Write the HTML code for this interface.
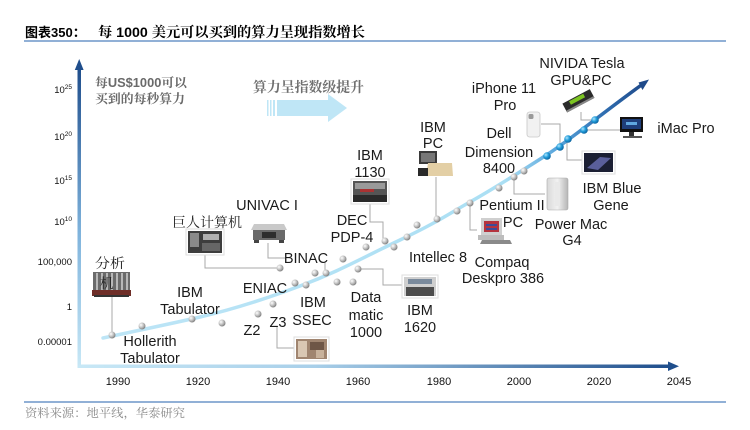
<!DOCTYPE html>
<html><head><meta charset="utf-8"><style>
html,body{margin:0;padding:0;background:#fff;}
svg{display:block;}
</style></head><body>
<svg width="750" height="430" viewBox="0 0 750 430" xmlns="http://www.w3.org/2000/svg">
<defs>
<linearGradient id="yax" x1="0" y1="1" x2="0" y2="0"><stop offset="0" stop-color="#c8e8f6"/><stop offset="0.45" stop-color="#7fb3dc"/><stop offset="1" stop-color="#1f4e8c"/></linearGradient>
<linearGradient id="xax" x1="0" y1="0" x2="1" y2="0"><stop offset="0" stop-color="#c8e8f6"/><stop offset="0.4" stop-color="#a8cfe9"/><stop offset="1" stop-color="#1f4e8c"/></linearGradient>
<linearGradient id="crv" gradientUnits="userSpaceOnUse" x1="103" y1="338" x2="644" y2="83"><stop offset="0" stop-color="#bde5f6"/><stop offset="0.72" stop-color="#aadff4"/><stop offset="0.82" stop-color="#5aa6dc"/><stop offset="0.92" stop-color="#2f6db0"/><stop offset="1" stop-color="#1f4a8a"/></linearGradient>
<radialGradient id="gd" cx="0.35" cy="0.35" r="0.7"><stop offset="0" stop-color="#ffffff"/><stop offset="0.5" stop-color="#c4c4c4"/><stop offset="1" stop-color="#7a7a7a"/></radialGradient>
<radialGradient id="bd" cx="0.35" cy="0.35" r="0.7"><stop offset="0" stop-color="#aee6ff"/><stop offset="0.5" stop-color="#1f9ad8"/><stop offset="1" stop-color="#0b5f9a"/></radialGradient>
<linearGradient id="silver" x1="0" y1="0" x2="1" y2="0"><stop offset="0" stop-color="#d8d8d8"/><stop offset="0.5" stop-color="#f2f2f2"/><stop offset="1" stop-color="#b5b5b5"/></linearGradient>
</defs>

<!-- title -->
<text x="25" y="37" font-family="Liberation Sans, Noto Sans CJK SC, sans-serif" font-size="13" font-weight="bold" fill="#000">图表350：</text>
<text x="98" y="37" font-family="Liberation Sans, Noto Serif CJK SC, serif" font-size="14" font-weight="bold" fill="#000" textLength="267" lengthAdjust="spacingAndGlyphs">每 1000 美元可以买到的算力呈现指数增长</text>
<line x1="24" y1="41" x2="726" y2="41" stroke="#4f81bd" stroke-width="1.2"/>

<!-- bottom -->
<line x1="24" y1="402" x2="726" y2="402" stroke="#4f81bd" stroke-width="1.2"/>
<text x="25" y="417" font-family="Liberation Serif, Noto Serif CJK SC, serif" font-size="12" fill="#8a8a8a" textLength="160" lengthAdjust="spacingAndGlyphs">资料来源：地平线，华泰研究</text>

<!-- axes -->
<rect x="77.5" y="68" width="3.5" height="300" fill="url(#yax)"/>
<polygon points="79.2,59 74.8,70 83.6,70" fill="#1f4e8c"/>
<rect x="79" y="364.5" width="590" height="3.5" fill="url(#xax)"/>
<polygon points="679,366.2 668,361.5 668,371" fill="#1f4e8c"/>

<!-- y labels -->
<g font-family="Liberation Sans, sans-serif" font-size="9.5" fill="#111" text-anchor="end">
<text x="72" y="93">10<tspan font-size="6.5" dy="-4">25</tspan></text>
<text x="72" y="140">10<tspan font-size="6.5" dy="-4">20</tspan></text>
<text x="72" y="184">10<tspan font-size="6.5" dy="-4">15</tspan></text>
<text x="72" y="225">10<tspan font-size="6.5" dy="-4">10</tspan></text>
<text x="72" y="265">100,000</text>
<text x="72" y="310">1</text>
<text x="72" y="345">0.00001</text>
</g>
<!-- x labels -->
<g font-family="Liberation Sans, sans-serif" font-size="11" fill="#111" text-anchor="middle">
<text x="118" y="385">1990</text>
<text x="198" y="385">1920</text>
<text x="278" y="385">1940</text>
<text x="358" y="385">1960</text>
<text x="439" y="385">1980</text>
<text x="519" y="385">2000</text>
<text x="599" y="385">2020</text>
<text x="679" y="385">2045</text>
</g>

<!-- y-axis caption -->
<text x="95" y="87" font-family="Liberation Sans, Noto Serif CJK SC, serif" font-size="12.5" font-weight="bold" fill="#6a6a6a" textLength="92" lengthAdjust="spacingAndGlyphs">每US$1000可以</text>
<text x="95" y="103" font-family="Liberation Serif, Noto Serif CJK SC, serif" font-size="12.5" font-weight="bold" fill="#6a6a6a" textLength="90" lengthAdjust="spacingAndGlyphs">买到的每秒算力</text>

<!-- big arrow -->
<text x="253" y="92" font-family="Liberation Serif, Noto Serif CJK SC, serif" font-size="14" font-weight="bold" fill="#707070" textLength="111" lengthAdjust="spacingAndGlyphs">算力呈指数级提升</text>
<g fill="#bfe6f6">
<rect x="267" y="100" width="1.5" height="16"/>
<rect x="270" y="100" width="1.5" height="16"/>
<rect x="273" y="100" width="2" height="16"/>
<rect x="277" y="100" width="52" height="16"/>
<polygon points="328,94 347,108 328,122"/>
</g>

<!-- connectors -->
<g stroke="#a9a9a9" stroke-width="1" fill="none">
<polyline points="112,297 112,335"/>
<polyline points="205,254 205,268 280,268"/>
<polyline points="268,243 268,258 285,258"/>
<polyline points="325,263 325,273"/>
<polyline points="370,203 370,222 383,222 383,241"/>
<polyline points="436,177 436,219"/>
<polyline points="277,327 277,348 295,348"/>
<polyline points="358,269 383,269 383,285 403,285"/>
<polyline points="470,203 470,230 477,230"/>
<polyline points="514,177 514,194 545,194"/>
<polyline points="541,124 560,124 560,147"/>
<polyline points="581,112 581,120 595,120"/>
<polyline points="584,130 620,130"/>
<polyline points="567,139 567,160 582,160"/>
</g>

<!-- curve -->
<path d="M103,338 C140,330 170,324 200,317 S260,301 300,286 S360,259 400,240 S450,213 470,202 S520,172 545,156 S600,115 640,86" fill="none" stroke="url(#crv)" stroke-width="3.5" stroke-linecap="round"/>
<polygon points="649,79.5 638.5,82.5 642.5,90" fill="#1f4a8a"/>

<!-- gray dots -->
<g fill="url(#gd)">
<circle cx="112" cy="335" r="3.5"/><circle cx="142" cy="326" r="3.5"/><circle cx="192" cy="319" r="3.5"/>
<circle cx="222" cy="323" r="3.5"/><circle cx="258" cy="314" r="3.5"/><circle cx="273" cy="304" r="3.5"/>
<circle cx="280" cy="268" r="3.5"/><circle cx="295" cy="283" r="3.5"/><circle cx="306" cy="285" r="3.5"/>
<circle cx="315" cy="273" r="3.5"/><circle cx="326" cy="273" r="3.5"/><circle cx="337" cy="282" r="3.5"/>
<circle cx="343" cy="259" r="3.5"/><circle cx="353" cy="282" r="3.5"/><circle cx="358" cy="269" r="3.5"/>
<circle cx="366" cy="247" r="3.5"/><circle cx="385" cy="241" r="3.5"/><circle cx="394" cy="247" r="3.5"/>
<circle cx="407" cy="237" r="3.5"/><circle cx="417" cy="225" r="3.5"/><circle cx="437" cy="219" r="3.5"/>
<circle cx="457" cy="211" r="3.5"/><circle cx="470" cy="203" r="3.5"/><circle cx="499" cy="188" r="3.5"/>
<circle cx="514" cy="177" r="3.5"/><circle cx="524" cy="171" r="3.5"/>
</g>
<g fill="url(#bd)">
<circle cx="547" cy="156" r="3.8"/><circle cx="560" cy="147" r="3.8"/><circle cx="568" cy="139" r="3.8"/>
<circle cx="584" cy="130" r="3.8"/><circle cx="595" cy="120" r="3.8"/>
</g>

<!-- images -->
<!-- analytical engine -->
<g>
<rect x="93" y="272" width="37" height="20" fill="#6b6b6b"/>
<g fill="#b8b8b8"><rect x="96" y="273" width="2" height="18"/><rect x="101" y="273" width="2" height="18"/><rect x="106" y="273" width="2" height="18"/><rect x="111" y="273" width="2" height="18"/><rect x="116" y="273" width="2" height="18"/><rect x="121" y="273" width="2" height="18"/><rect x="126" y="273" width="2" height="18"/></g>
<rect x="92" y="290" width="39" height="6" fill="#6e2e28"/>
<rect x="94" y="295" width="35" height="2" fill="#333"/>
</g>
<!-- colossus photo -->
<rect x="186" y="229" width="38" height="26" fill="#fff" stroke="#ddd" stroke-width="1"/>
<rect x="188" y="231" width="34" height="22" fill="#3d3d3d"/>
<rect x="190" y="233" width="9" height="14" fill="#8a8a8a"/><rect x="203" y="234" width="16" height="6" fill="#b0b0b0"/><rect x="202" y="243" width="18" height="8" fill="#666"/>
<!-- UNIVAC -->
<polygon points="254,224 284,224 287,230 251,230" fill="#c9c9c9"/>
<rect x="253" y="230" width="32" height="10" fill="#6a6a6a"/>
<rect x="262" y="232" width="14" height="6" fill="#2e2e2e"/>
<rect x="254" y="240" width="5" height="3" fill="#444"/><rect x="279" y="240" width="5" height="3" fill="#444"/>
<!-- IBM 1130 -->
<rect x="351" y="179" width="38" height="25" fill="#fff" stroke="#ddd"/>
<rect x="353" y="181" width="34" height="21" fill="#555"/>
<rect x="355" y="183" width="30" height="6" fill="#9a9a9a"/><rect x="360" y="189" width="14" height="3" fill="#a33"/><rect x="353" y="195" width="34" height="7" fill="#2a2a2a"/>
<!-- IBM PC -->
<rect x="419" y="151" width="18" height="13" fill="#3a3a3a"/><rect x="421" y="153" width="14" height="9" fill="#777"/>
<polygon points="428,163 452,163 453,176 426,176" fill="#e3cfa5"/>
<rect x="418" y="168" width="10" height="8" fill="#2a2a2a"/>
<!-- Z3 photo -->
<rect x="294" y="337" width="35" height="24" fill="#fff" stroke="#ddd"/>
<rect x="296" y="339" width="31" height="20" fill="#a08570"/>
<rect x="298" y="341" width="9" height="16" fill="#d9c7b3"/><rect x="310" y="342" width="14" height="8" fill="#6e5646"/><rect x="316" y="350" width="8" height="8" fill="#c8b29c"/>
<!-- IBM 1620 -->
<rect x="402" y="275" width="36" height="23" fill="#fff" stroke="#ddd"/>
<rect x="404" y="277" width="32" height="19" fill="#cfcfcf"/>
<rect x="408" y="279" width="24" height="5" fill="#7a8a9c"/><rect x="406" y="287" width="28" height="9" fill="#4d4d4d"/>
<!-- Compaq -->
<rect x="481" y="218" width="21" height="17" fill="#cfcfcf"/><rect x="484" y="221" width="15" height="11" fill="#b4343f"/><rect x="486" y="224" width="11" height="2" fill="#3c4c9a"/><rect x="486" y="228" width="11" height="2" fill="#3c4c9a"/>
<rect x="478" y="235" width="26" height="5" fill="#bdbdbd"/><polygon points="482,240 510,240 512,244 480,244" fill="#8a8a8a"/>
<!-- Power Mac G4 -->
<rect x="547" y="178" width="21" height="32" rx="2" fill="url(#silver)" stroke="#aaa" stroke-width="0.6"/>
<rect x="555" y="182" width="5" height="24" fill="#e9e9e9"/>
<!-- iPhone -->
<rect x="527" y="112" width="13" height="25" rx="2.5" fill="#f1f1f1" stroke="#c8c8c8" stroke-width="0.8"/>
<rect x="528.5" y="114" width="5" height="5" rx="1.5" fill="#9a9a9a"/>
<!-- GPU -->
<g transform="rotate(-28 578 101)">
<rect x="563" y="96" width="31" height="10" fill="#2b2b2b"/>
<rect x="570" y="97" width="16" height="4" fill="#7bc422"/>
<rect x="563" y="104" width="31" height="2" fill="#888"/>
</g>
<!-- iMac -->
<rect x="620" y="117" width="23" height="15" fill="#111"/><rect x="622" y="119" width="19" height="10" fill="#1e3e7a"/><rect x="626" y="122" width="11" height="3" fill="#5fa8e0"/>
<rect x="629" y="132" width="5" height="4" fill="#333"/><rect x="623" y="136" width="19" height="2" fill="#555"/>
<!-- Blue Gene -->
<rect x="582" y="151" width="33" height="23" fill="#fff" stroke="#ddd"/>
<rect x="584" y="153" width="29" height="19" fill="#1b1f33"/>
<polygon points="587,168 600,157 611,158 598,170" fill="#5a5f9a"/>

<!-- labels -->
<g font-family="Liberation Sans, sans-serif" font-size="14.5" fill="#1a1a1a" text-anchor="middle">
<text x="190" y="297">IBM</text><text x="190" y="314">Tabulator</text>
<text x="150" y="346">Hollerith</text><text x="150" y="363">Tabulator</text>
<text x="265" y="293">ENIAC</text>
<text x="252" y="335">Z2</text><text x="278" y="327">Z3</text>
<text x="313" y="307">IBM</text><text x="312" y="325">SSEC</text>
<text x="366" y="302">Data</text><text x="366" y="320">matic</text><text x="366" y="337">1000</text>
<text x="420" y="315">IBM</text><text x="420" y="332">1620</text>
<text x="306" y="263">BINAC</text>
<text x="267" y="210">UNIVAC I</text>
<text x="352" y="225">DEC</text><text x="352" y="242">PDP-4</text>
<text x="370" y="160">IBM</text><text x="370" y="177">1130</text>
<text x="433" y="132">IBM</text><text x="433" y="148">PC</text>
<text x="438" y="262">Intellec 8</text>
<text x="502" y="267">Compaq</text><text x="503" y="283">Deskpro 386</text>
<text x="512" y="210">Pentium II</text><text x="513" y="227">PC</text>
<text x="571" y="229">Power Mac</text><text x="572" y="245">G4</text>
<text x="499" y="138">Dell</text><text x="499" y="157">Dimension</text><text x="499" y="173">8400</text>
<text x="504" y="93">iPhone 11</text><text x="505" y="110">Pro</text>
<text x="582" y="68">NIVIDA Tesla</text><text x="581" y="85">GPU&amp;PC</text>
<text x="686" y="133">iMac Pro</text>
<text x="612" y="193">IBM Blue</text><text x="611" y="210">Gene</text>
</g>
<g font-family="Liberation Serif, Noto Serif CJK SC, serif" font-size="13.5" fill="#222">
<text x="172" y="227" textLength="70" lengthAdjust="spacingAndGlyphs">巨人计算机</text>
<text x="95" y="268" textLength="30" lengthAdjust="spacingAndGlyphs">分析</text>
<text x="100" y="288">机</text>
</g>
</svg>
</body></html>
